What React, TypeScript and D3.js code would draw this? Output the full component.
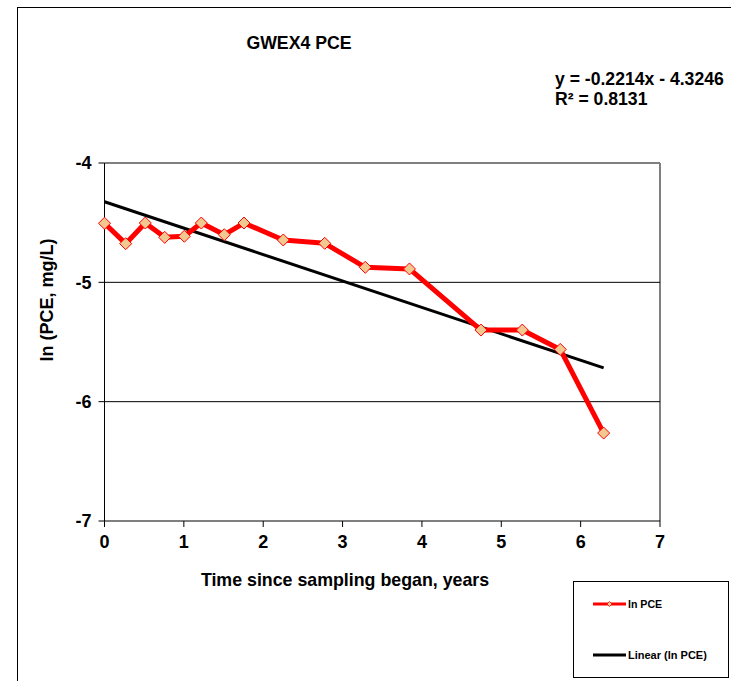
import * as d3 from 'd3';

// measured series (years since start, ln of PCE concentration in mg/L)
const years = [0, 0.267, 0.514, 0.759, 1.006, 1.22, 1.51, 1.758, 2.253, 2.775, 3.286, 3.843, 4.744, 5.265, 5.743, 6.29];
const lnPce = [-4.505, -4.676, -4.503, -4.623, -4.614, -4.503, -4.601, -4.503, -4.645, -4.673, -4.874, -4.888, -5.4, -5.4, -5.562, -6.263];

// linear fit shown on the chart
const slope = -0.2214;
const intercept = -4.3246;

const xTicks = [0, 1, 2, 3, 4, 5, 6, 7];
const yTicks = [-4, -5, -6, -7];
const gridValues = [-5, -6];

const W = 731;
const H = 681;
const plot = { left: 104.5, right: 660, top: 163, bottom: 521 };
const FONT = '"Liberation Sans", Arial, sans-serif';

export default function App() {
  const x = d3.scaleLinear().domain([0, 7]).range([plot.left, plot.right]);
  const y = d3.scaleLinear().domain([-7, -4]).range([plot.bottom, plot.top]);

  const pts = years.map((t, i) => ({ t, v: lnPce[i] }));
  const line = d3
    .line<{ t: number; v: number }>()
    .x(d => x(d.t))
    .y(d => y(d.v));

  const tMax = d3.max(years) ?? 0;
  const fit = [0, tMax].map(t => ({ t, v: slope * t + intercept }));

  const diamond = (cx: number, cy: number, r: number) =>
    `M${cx},${cy - r}L${cx + r},${cy}L${cx},${cy + r}L${cx - r},${cy}Z`;

  return (
    <svg
      width={W}
      height={H}
      style={{ position: 'absolute', left: 0, top: 0, background: '#fff' }}
      fontFamily={FONT}
      fontWeight="bold"
    >
      {/* outer chart frame */}
      <rect x={17.5} y={7.5} width={W} height={H} fill="none" stroke="#000" strokeWidth={1} />

      {/* plot area border */}
      <line x1={plot.left} x2={plot.right} y1={plot.top} y2={plot.top} stroke="#808080" strokeWidth={2} />
      <line x1={plot.right} x2={plot.right} y1={plot.top} y2={plot.bottom} stroke="#808080" strokeWidth={2} />

      {/* gridlines */}
      {gridValues.map(v => (
        <line key={v} x1={plot.left} x2={plot.right} y1={y(v)} y2={y(v)} stroke="#000" strokeWidth={1} />
      ))}

      {/* axes */}
      <line x1={plot.left} x2={plot.left} y1={plot.top} y2={plot.bottom} stroke="#000" strokeWidth={1} />
      <line x1={plot.left} x2={plot.right} y1={plot.bottom} y2={plot.bottom} stroke="#000" strokeWidth={1} />
      {yTicks.map(v => (
        <g key={v}>
          <line x1={plot.left - 6} x2={plot.left} y1={y(v)} y2={y(v)} stroke="#000" />
          <text x={plot.left - 13} y={y(v)} dy="0.36em" textAnchor="end" fontSize={18}>
            {v}
          </text>
        </g>
      ))}
      {xTicks.map(v => (
        <g key={v}>
          <line x1={x(v)} x2={x(v)} y1={plot.bottom} y2={plot.bottom + 6} stroke="#000" />
          <text x={x(v)} y={plot.bottom + 27} textAnchor="middle" fontSize={18}>
            {v}
          </text>
        </g>
      ))}

      {/* trend line */}
      <path d={line(fit) ?? ''} fill="none" stroke="#000" strokeWidth={3} />

      {/* data series */}
      <path d={line(pts) ?? ''} fill="none" stroke="#ff0000" strokeWidth={5} strokeLinejoin="round" />
      {pts.map((d, i) => (
        <path key={i} d={diamond(x(d.t), y(d.v), 6)} fill="#f0c890" stroke="#ff0000" strokeWidth={1} />
      ))}

      {/* titles */}
      <text x={299} y={48.5} textAnchor="middle" fontSize={17.7}>
        GWEX4 PCE
      </text>
      <text x={555} y={84.5} fontSize={17.6}>
        y = -0.2214x - 4.3246
      </text>
      <text x={555} y={104.5} fontSize={17.6}>
        R² = 0.8131
      </text>
      <text x={345} y={586} textAnchor="middle" fontSize={17.8}>
        Time since sampling began, years
      </text>
      <text transform={`translate(53,300) rotate(-90)`} textAnchor="middle" fontSize={18}>
        ln (PCE, mg/L)
      </text>

      {/* legend */}
      <rect x={573.5} y={581.5} width={155} height={96} fill="#fff" stroke="#000" strokeWidth={1} />
      <line x1={593} x2={626} y1={604} y2={604} stroke="#ff0000" strokeWidth={3} />
      <path d={diamond(609.5, 604, 2.5)} fill="#f0c890" stroke="#ff0000" strokeWidth={0.8} />
      <text x={628} y={604} dy="0.35em" fontSize={10.6}>
        ln PCE
      </text>
      <line x1={593} x2={626} y1={655} y2={655} stroke="#000" strokeWidth={3} />
      <text x={628} y={655} dy="0.35em" fontSize={11}>
        Linear (ln PCE)
      </text>
    </svg>
  );
}
